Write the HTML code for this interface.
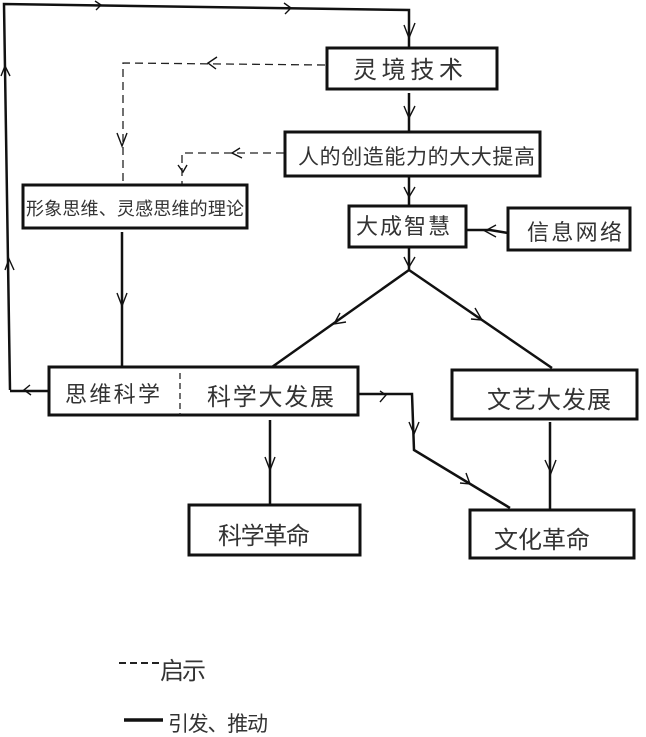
<!DOCTYPE html>
<html lang="zh"><head><meta charset="utf-8"><style>
html,body{margin:0;padding:0;background:#fff;width:646px;height:737px;overflow:hidden}
svg{display:block}
text{font-family:"Liberation Sans","WenQuanYi Zen Hei","Noto Sans CJK SC",sans-serif;fill:#333}
.b{fill:#fff;stroke:#111;stroke-width:3}
.l{fill:none;stroke:#111;stroke-width:2.5}
.a{fill:none;stroke:#111;stroke-width:1.4}
.d{fill:none;stroke:#222;stroke-width:1.3;stroke-dasharray:8 5}
</style></head><body>
<svg width="646" height="737" viewBox="0 0 646 737" xmlns="http://www.w3.org/2000/svg">
<path class="l" d="M10 390 L4 4 L409 10 V47"/>
<path class="l" d="M10 391 H49"/>
<path class="l" d="M409 93 V131 M409 177 V205 M409 247 V270 M409 270 L272 367 M409 270 L552 368 M122 232 V367 M466 230 H490 L508 233 M270 420 V505 M550 422 V510"/>
<path class="l" d="M358 394 H412 L414 450 L510 508"/>
<path class="d" d="M325 65 L123 63 V184"/>
<path class="d" d="M284 153 H182 V184"/>
<path class="a" d="M95 1 L101 5 L96 10 M284 3 L291 8 L285 14"/>
<path class="a" d="M1 76 L5 66 L10 76 M5 270 L9 259 L14 270"/>
<path class="a" d="M404 25 L409 38 L415 23 M404 106 L409 118 L415 106 M404 187 L409 197 L415 187 M404 257 L409 267 L415 257"/>
<path class="a" d="M217 57 L208 63 L216 69 M240 148 L232 153 L242 158"/>
<path class="a" d="M117 133 L122 146 L127 133 M178 165 L183 172 L187 165"/>
<path class="a" d="M117 293 L122 306 L127 293 M265 457 L270 470 L275 457 M545 460 L551 473 L556 460"/>
<path class="a" d="M340 313 L334 324 L346 322 M475 308 L482 320 L471 319"/>
<path class="a" d="M496 225 L485 231 L496 237 M30 385 L24 390 L31 395"/>
<path class="a" d="M380 391 L386 395 L380 402 M409 422 L414 434 L419 422 M460 483 L470 484 L466 473"/>
<rect class="b" x="327" y="48" width="170" height="41"/>
<rect class="b" x="285" y="132" width="255" height="44"/>
<rect class="b" x="23" y="185" width="224" height="43"/>
<rect class="b" x="349" y="206" width="117" height="41"/>
<rect class="b" x="508" y="208" width="122" height="42"/>
<rect class="b" x="49" y="367" width="309" height="48"/>
<rect class="b" x="452" y="370" width="185" height="49"/>
<rect class="b" x="189" y="505" width="171" height="50"/>
<rect class="b" x="470" y="510" width="164" height="48"/>
<path d="M180 373 V415" class="d" style="stroke-dasharray:6 4"/>
<g font-size="24">
<text x="353" y="78" textLength="110" lengthAdjust="spacing">灵境技术</text>
<text x="298" y="164" font-size="21" textLength="237" lengthAdjust="spacing">人的创造能力的大大提高</text>
<text x="26" y="215" font-size="18" textLength="218" lengthAdjust="spacing">形象思维、灵感思维的理论</text>
<text x="356" y="234" font-size="22" textLength="94" lengthAdjust="spacing">大成智慧</text>
<text x="527" y="240" font-size="22" textLength="95" lengthAdjust="spacing">信息网络</text>
<text x="65" y="402" font-size="22" textLength="95" lengthAdjust="spacing">思维科学</text>
<text x="207" y="405" textLength="127" lengthAdjust="spacing">科学大发展</text>
<text x="487" y="408" textLength="124" lengthAdjust="spacing">文艺大发展</text>
<text x="218" y="544" textLength="92" lengthAdjust="spacing">科学革命</text>
<text x="494" y="548" textLength="96" lengthAdjust="spacing">文化革命</text>
<text x="160" y="679" font-size="24" textLength="46" lengthAdjust="spacing">启示</text>
<text x="168" y="731" font-size="21" textLength="100" lengthAdjust="spacing">引发、推动</text>
</g>
<path d="M119 663 H160" fill="none" stroke="#222" stroke-width="2" stroke-dasharray="7 4"/>
<path d="M124 720 H163" fill="none" stroke="#111" stroke-width="3.5"/>
</svg>
</body></html>
